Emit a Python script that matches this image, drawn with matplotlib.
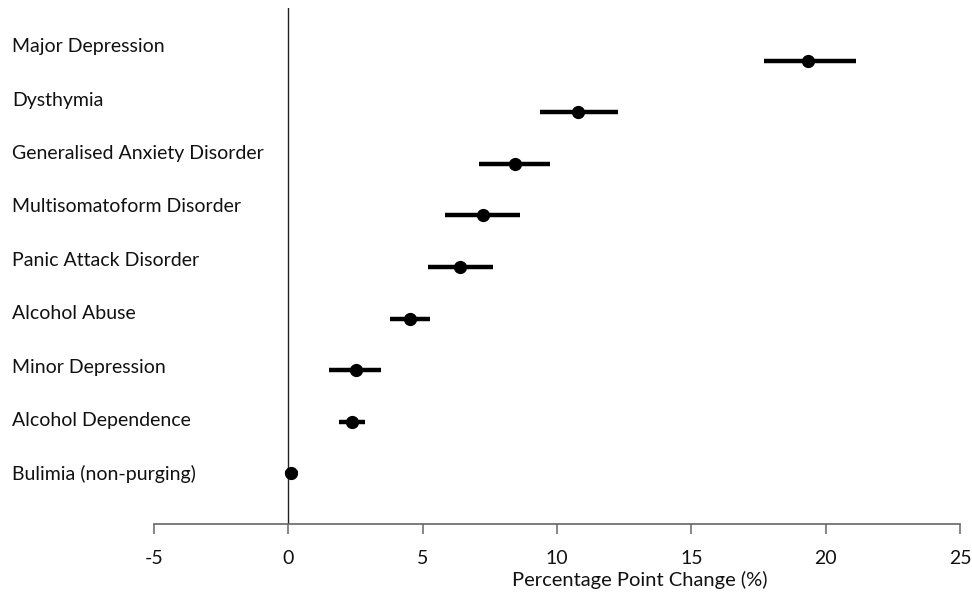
import matplotlib
matplotlib.use("Agg")
import matplotlib.pyplot as plt

plt.rcParams['font.family'] = ['Lato', 'DejaVu Sans']

categories = ["Bulimia (non-purging)", "Alcohol Dependence", "Minor Depression",
              "Alcohol Abuse", "Panic Attack Disorder", "Multisomatoform Disorder",
              "Generalised Anxiety Disorder", "Dysthymia", "Major Depression"]
estimate = [0.11, 2.38, 2.50, 4.54, 6.40, 7.26, 8.44, 10.80, 19.36]
ci_low = [-0.14, 1.88, 1.51, 3.80, 5.18, 5.84, 7.08, 9.37, 17.69]
ci_high = [0.36, 2.87, 3.46, 5.28, 7.60, 8.63, 9.74, 12.28, 21.14]
xticks = [-5, 0, 5, 10, 15, 20, 25]

W, H = 972, 592
fig = plt.figure(figsize=(W / 100, H / 100), dpi=100)
ax_l, ax_r, ax_b, ax_t = 154, 960, 524, 8
ax = fig.add_axes([ax_l / W, 1 - ax_b / H, (ax_r - ax_l) / W, (ax_b - ax_t) / H])

ypos = list(range(len(categories)))
for y, lo, hi in zip(ypos, ci_low, ci_high):
    ax.plot([lo, hi], [y, y], color='black', lw=3.2, solid_capstyle='butt', zorder=3)
ax.plot(estimate, ypos, 'o', color='black', ms=8.5, zorder=4)

ax.axvline(0, color='#222222', lw=1.0, zorder=2)

ax.set_xlim(-5, 25)
ax.set_ylim(-0.98, 9.02)
ax.set_xticks(xticks)
ax.set_xticklabels([str(t) for t in xticks], fontsize=14, color='#111111')
ax.set_yticks([])
for s in ['top', 'right', 'left']:
    ax.spines[s].set_visible(False)
ax.spines['bottom'].set_color('#666666')
ax.spines['bottom'].set_linewidth(1.2)
ax.tick_params(axis='x', direction='out', length=7, width=1.1, color='#666666', pad=12)

# category labels on the left
for i, name in enumerate(categories):
    py = 474 - 53.4 * i
    fig.text(12 / W, 1 - py / H, name, ha='left', va='center', fontsize=14, color='#111111')

fig.text(768 / W, 1 - 580 / H, "Percentage Point Change (%)", ha='right', va='center',
         fontsize=14.5, color='#111111')

fig.savefig("out.png", dpi=100)
